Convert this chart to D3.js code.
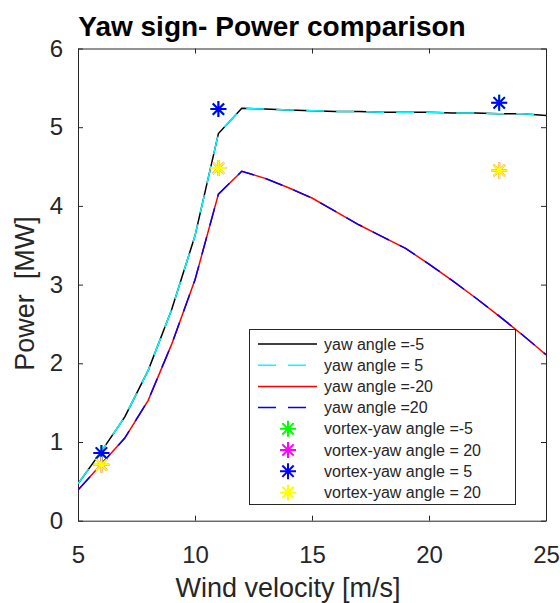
<!DOCTYPE html>
<html>
<head>
<meta charset="utf-8">
<script src="https://cdn.jsdelivr.net/npm/d3@7"></script>
<style>
  body { margin: 0; background: #fff; }
  text { font-family: "Liberation Sans", Arial, Helvetica, sans-serif; }
</style>
</head>
<body>
<div id="chart"></div>
<script>
const width = 560;
const height = 603;

// wind speeds (m/s)
const wind = [5, 6, 7, 8, 9, 10, 11, 12, 13, 14, 15, 16, 17, 18, 19, 20, 21, 22, 23, 24, 25];
// power (MW)
const powerYawM5  = [0.47, 0.88, 1.32, 1.91, 2.68, 3.62, 4.92, 5.24, 5.23, 5.22, 5.21, 5.20, 5.20, 5.19, 5.19, 5.19, 5.18, 5.18, 5.17, 5.17, 5.15];
const powerYaw5   = [0.47, 0.88, 1.32, 1.91, 2.68, 3.62, 4.92, 5.24, 5.23, 5.22, 5.21, 5.20, 5.20, 5.19, 5.19, 5.19, 5.18, 5.18, 5.17, 5.17, 5.15];
const powerYawM20 = [0.39, 0.72, 1.05, 1.53, 2.24, 3.06, 4.15, 4.44, 4.35, 4.23, 4.10, 3.93, 3.76, 3.61, 3.46, 3.26, 3.05, 2.83, 2.60, 2.36, 2.11];
const powerYaw20  = [0.39, 0.72, 1.05, 1.53, 2.24, 3.06, 4.15, 4.44, 4.35, 4.23, 4.10, 3.93, 3.76, 3.61, 3.46, 3.26, 3.05, 2.83, 2.60, 2.36, 2.11];

// vortex model points
const vortexWind = [6, 11, 23];
const vortexM5   = [0.86, 5.23, 5.31];
const vortex20a  = [0.71, 4.48, 4.45];
const vortex5    = [0.86, 5.23, 5.31];
const vortex20b  = [0.71, 4.48, 4.45];

const xTicks = [5, 10, 15, 20, 25];
const yTicks = [0, 1, 2, 3, 4, 5, 6];

const legendLabels = [
  'yaw angle =-5', 'yaw angle = 5', 'yaw angle =-20', 'yaw angle =20',
  'vortex-yaw angle =-5', 'vortex-yaw angle = 20', 'vortex-yaw angle = 5', 'vortex-yaw angle = 20'
];

const svg = d3.select('#chart').append('svg')
  .attr('width', width).attr('height', height);

const x = d3.scaleLinear().domain([5, 25]).range([78, 546]);
const y = d3.scaleLinear().domain([0, 6]).range([520.7, 48.5]);

const axisColor = '#262626';
const fmt = d3.format('d');

function styleAxis(g) {
  g.selectAll('path, line').attr('stroke', axisColor);
  g.selectAll('text').attr('fill', axisColor).style('font-size', '24px')
    .style('font-family', '"Liberation Sans", Arial, Helvetica, sans-serif');
}

svg.append('g').attr('transform', `translate(0,${y(0)})`)
  .call(d3.axisBottom(x).tickValues(xTicks).tickFormat(fmt).tickSizeInner(-5).tickSizeOuter(0).tickPadding(25))
  .call(styleAxis);
svg.append('g').attr('transform', `translate(0,${y(6)})`)
  .call(d3.axisTop(x).tickValues(xTicks).tickSizeInner(-5).tickSizeOuter(0).tickFormat(''))
  .call(styleAxis);
svg.append('g').attr('transform', `translate(${x(5)},0)`)
  .call(d3.axisLeft(y).tickValues(yTicks).tickFormat(fmt).tickSizeInner(-5).tickSizeOuter(0).tickPadding(15))
  .call(styleAxis);
svg.append('g').attr('transform', `translate(${x(25)},0)`)
  .call(d3.axisRight(y).tickValues(yTicks).tickSizeInner(-5).tickSizeOuter(0).tickFormat(''))
  .call(styleAxis);

svg.append('clipPath').attr('id', 'clip')
  .append('rect').attr('x', x(5)).attr('y', y(6)).attr('width', x(25) - x(5)).attr('height', y(0) - y(6));

const plot = svg.append('g').attr('clip-path', 'url(#clip)');

const line = d3.line().x((d, i) => x(wind[i])).y(d => y(d));

const lineSeries = [
  { values: powerYawM5, color: '#000000', dash: null },
  { values: powerYaw5, color: '#00ffff', dash: '18,12' },
  { values: powerYawM20, color: '#ff0000', dash: null },
  { values: powerYaw20, color: '#0000ff', dash: '18,12' }
];

lineSeries.forEach(s => {
  plot.append('path')
    .attr('d', line(s.values))
    .attr('fill', 'none')
    .attr('stroke', s.color)
    .attr('stroke-width', 1.5)
    .attr('stroke-dasharray', s.dash);
});

const starSeries = [
  { values: vortexM5, color: '#00ff00' },
  { values: vortex20a, color: '#ff00ff' },
  { values: vortex5, color: '#0000ff' },
  { values: vortex20b, color: '#ffff00' }
];

function starPath(r) {
  const d = r * Math.SQRT1_2;
  return `M${-r},0L${r},0M0,${-r}L0,${r}M${-d},${-d}L${d},${d}M${-d},${d}L${d},${-d}`;
}

starSeries.forEach(s => {
  svg.append('g').selectAll('path')
    .data(s.values).join('path')
    .attr('transform', (d, i) => `translate(${x(vortexWind[i])},${y(d)})`)
    .attr('d', starPath(8))
    .attr('fill', 'none')
    .attr('stroke', s.color)
    .attr('stroke-width', 2);
});

// title and axis labels
svg.append('text')
  .attr('x', 272).attr('y', 36)
  .attr('text-anchor', 'middle')
  .style('font-size', '28px').style('font-weight', 'bold')
  .attr('fill', '#000')
  .text('Yaw sign- Power comparison');

svg.append('text')
  .attr('x', 288).attr('y', 597)
  .attr('text-anchor', 'middle')
  .style('font-size', '27px')
  .attr('fill', axisColor)
  .text('Wind velocity [m/s]');

svg.append('text')
  .attr('transform', 'translate(34,293.5) rotate(-90)')
  .attr('text-anchor', 'middle')
  .style('font-size', '27px')
  .style('white-space', 'pre')
  .attr('fill', axisColor)
  .text('Power  [MW]');

// legend
const legend = svg.append('g');
legend.append('rect')
  .attr('x', 249.5).attr('y', 329.5).attr('width', 266).attr('height', 175)
  .attr('fill', '#fff').attr('stroke', axisColor).attr('stroke-width', 1);

const legendItems = lineSeries.map(s => ({ type: 'line', color: s.color, dash: s.dash }))
  .concat(starSeries.map(s => ({ type: 'star', color: s.color })));

legendItems.forEach((item, i) => {
  const cy = 344 + i * 21.2;
  const g = legend.append('g');
  if (item.type === 'line') {
    g.append('line')
      .attr('x1', 258).attr('x2', 317).attr('y1', cy).attr('y2', cy)
      .attr('stroke', item.color).attr('stroke-width', 1.5)
      .attr('stroke-dasharray', item.dash);
  } else {
    g.append('path')
      .attr('transform', `translate(288,${cy})`)
      .attr('d', starPath(8))
      .attr('fill', 'none').attr('stroke', item.color).attr('stroke-width', 2);
  }
  g.append('text')
    .attr('x', 324).attr('y', cy + 5.6)
    .style('font-size', '16px')
    .attr('fill', axisColor)
    .text(legendLabels[i]);
});
</script>
</body>
</html>
